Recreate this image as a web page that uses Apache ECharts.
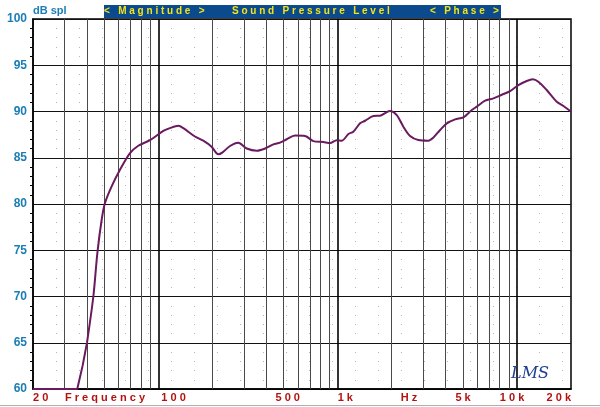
<!DOCTYPE html>
<html><head><meta charset="utf-8">
<script src="https://cdn.jsdelivr.net/npm/echarts@6/dist/echarts.min.js"></script>
<style>html,body{margin:0;padding:0;background:#fff}#c{width:600px;height:407px}</style>
</head><body><div id="c"></div>
<script>
// ---- data ----
const freqs = [20,35.3,37.8,40,43.4,45.7,48.3,50.4,54.9,61.1,69.5,77.3,89.8,106.6,116,129.3,137.8,160,178,198,216,227,251,279,311,354,394,438,477,520,578,658,731,832,906,988,1054,1148,1222,1333,1422,1582,1722,1959,2135,2324,2533,2818,3204,3420,3726,4060,4517,5024,5595,5967,6640,7388,8220,9148,10180,11330,12240,13150,14640,16660,18150,20000];
const splDb = [60,60,62.5,65,70,74.7,78.3,80.1,81.9,83.7,85.5,86.3,86.9,87.9,88.2,88.45,88.2,87.3,86.85,86.2,85.37,85.55,86.27,86.63,86.0,85.76,86.0,86.45,86.63,87.0,87.4,87.35,86.8,86.7,86.6,86.9,86.85,87.57,87.82,88.72,89.0,89.51,89.55,90.05,89.6,88.36,87.35,86.92,86.85,87.2,88.0,88.72,89.15,89.37,90.16,90.52,91.17,91.42,91.81,92.21,92.86,93.3,93.48,93.22,92.32,91.06,90.6,89.98];
const minorGridFreqs = [30,40,50,60,70,80,90,200,300,400,500,600,700,800,900,2000,3000,4000,5000,6000,7000,8000,9000];
const decadeGridFreqs = [100,1000,10000];
const xLabelTexts = ['20','Frequency','100','500','1k','Hz','5k','10k','20k'];
const xLabelFreqs = [20,50.4,100,500,1000,2500,5000,10000,20000];
const yMin = 60, yMax = 100, yStep = 5;
const titleParts = ['< Magnitude >','Sound Pressure Level','< Phase >'];
const yUnit = 'dB spl';

const spaced = s => s.split('').join(' ');
const chart = echarts.init(document.getElementById('c'), null, {renderer:'canvas'});
const markData = minorGridFreqs.map(f => ({xAxis:f, lineStyle:{color:'#4a4a4a', width:1, type:'solid'}}))
  .concat(decadeGridFreqs.map(f => ({xAxis:f, lineStyle:{color:'#000', width:1.6, type:'solid'}})));
const pts = freqs.map((f,i)=>[f, splDb[i]]);
const splitIdx = 3; // rolloff knee: straight segments below, smoothed curve above
const curveStyle = {color:'#6a1a5e', width:2};

chart.setOption({
  animation:false,
  backgroundColor:'#fff',
  grid:{left:33, top:19, right:29, bottom:18, show:true, borderColor:'#000', borderWidth:1.5, backgroundColor:'transparent'},
  xAxis:{type:'log', logBase:10, min:20, max:20000,
    axisLine:{show:true, lineStyle:{color:'#000', width:1.5}},
    axisTick:{show:false}, axisLabel:{show:false}, splitLine:{show:false}},
  yAxis:{type:'value', min:yMin, max:yMax, interval:yStep,
    axisLine:{show:true, lineStyle:{color:'#000', width:1.5}},
    axisTick:{show:false},
    minorTick:{show:true, splitNumber:5, length:3, lineStyle:{color:'#000'}},
    minorSplitLine:{show:true, lineStyle:{color:'#b5b5b5', width:1, type:[1,22]}},
    axisLabel:{color:'#1b7db5', fontWeight:'bold', fontSize:12, fontFamily:'"Liberation Sans Narrow", "Liberation Sans", Arial, sans-serif', margin:6},
    splitLine:{show:true, lineStyle:{color:'#111', width:1}}},
  series:[{
    type:'line', data:pts.slice(0, splitIdx+1),
    showSymbol:false, smooth:false, clip:false, z:5, lineStyle:curveStyle,
    markLine:{silent:true, symbol:['none','none'], label:{show:false}, data:markData, z:1, animation:false}
  },{
    type:'line', data:pts.slice(splitIdx),
    showSymbol:false, smooth:0.3, clip:false, z:5, lineStyle:curveStyle
  }]
});

const g = [];
// title bar
g.push({type:'rect', shape:{x:104, y:5, width:397, height:13}, style:{fill:'#0b4a8c'}, z:10});
const tf = 'bold 10px "Liberation Sans", Arial, sans-serif';
const titleX = [104, 232, 430];
titleParts.forEach((t,i)=>g.push({type:'text', x:titleX[i], y:6, style:{text:spaced(t), font:tf, fill:'#f2e41a', textVerticalAlign:'top'}, z:11}));
g.push({type:'text', x:33, y:5, style:{text:yUnit, font:'bold 11px "Liberation Sans", Arial, sans-serif', fill:'#1b7db5', textVerticalAlign:'top'}, z:11});
// x labels
const aligns = ['left','center','left','center','left','center','center','center','right'];
const offs = [0,0,3,4,0,0,0,-5,0];
xLabelTexts.forEach((t,i)=>{
  const px = chart.convertToPixel({xAxisIndex:0}, xLabelFreqs[i]);
  g.push({type:'text', x:px+offs[i], y:392, style:{text:spaced(t), font:'bold 11px "Liberation Sans", Arial, sans-serif', fill:'#b3120f', textAlign:aligns[i], textVerticalAlign:'top'}, z:11});
});
// bottom rule
g.push({type:'line', shape:{x1:0, y1:405.5, x2:600, y2:405.5}, style:{stroke:'#b0b0b0', lineWidth:1}, z:1});
// logo
g.push({type:'text', x:511, y:366, style:{text:'LMS', font:'italic 16px "DejaVu Serif", serif', fill:'#1f3f8f', textVerticalAlign:'top'}, z:11});
chart.setOption({graphic:g});
</script></body></html>
